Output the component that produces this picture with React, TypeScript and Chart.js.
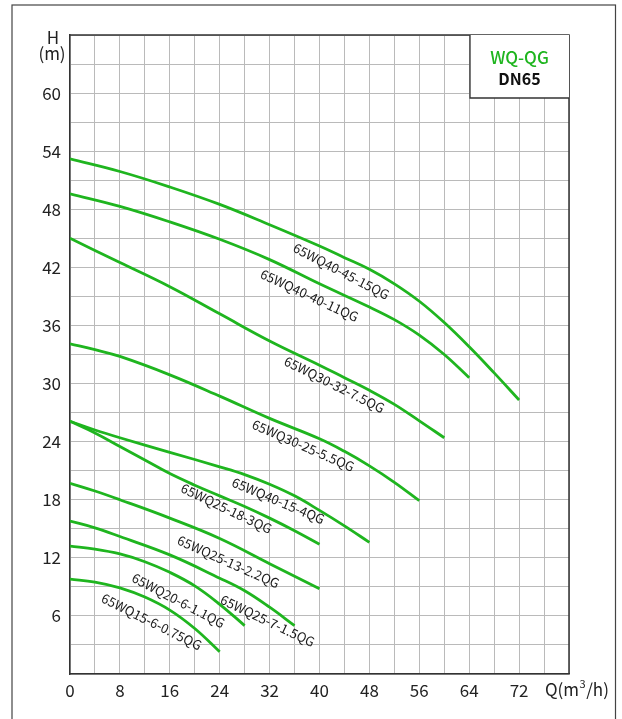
import { useEffect, useRef } from "react";
import { Chart, registerables } from "chart.js";

Chart.register(...registerables);

// ---- data (flow Q in m³/h, head H in m) ----
const q_40_45_15 = [0, 8, 16, 24, 32, 40, 44, 48, 52, 56, 60, 64, 68, 72];
const h_40_45_15 = [53.2, 51.9, 50.3, 48.5, 46.4, 44.2, 43.0, 41.8, 40.3, 38.5, 36.3, 33.8, 31.1, 28.3];

const q_40_40_11 = [0, 8, 16, 24, 32, 40, 48, 52, 56, 60, 64];
const h_40_40_11 = [49.6, 48.3, 46.7, 44.9, 42.8, 40.3, 37.9, 36.6, 35.0, 33.0, 30.6];

const q_30_32_75 = [0, 8, 16, 24, 32, 40, 44, 48, 52, 56, 60];
const h_30_32_75 = [45.0, 42.5, 40.0, 37.2, 34.4, 31.9, 30.6, 29.3, 27.85, 26.15, 24.4];

const q_30_25_55 = [0, 4, 8, 16, 24, 32, 40, 44, 48, 52, 56];
const h_30_25_55 = [34.1, 33.5, 32.8, 30.9, 28.7, 26.4, 24.3, 23.0, 21.5, 19.8, 17.9];

const q_40_15_4 = [0, 4, 8, 16, 24, 28, 32, 36, 40, 44, 48];
const h_40_15_4 = [26.1, 25.2, 24.4, 22.9, 21.4, 20.6, 19.6, 18.4, 16.9, 15.3, 13.6];

const q_25_18_3 = [0, 4, 8, 12, 16, 20, 24, 28, 32, 36, 40];
const h_25_18_3 = [26.1, 24.9, 23.5, 22.1, 20.7, 19.5, 18.4, 17.3, 16.1, 14.8, 13.4];

const q_25_13_22 = [0, 4, 8, 16, 24, 32, 36, 40];
const h_25_13_22 = [19.7, 18.9, 18.0, 16.1, 14.0, 11.4, 10.1, 8.8];

const q_25_7_15 = [0, 4, 8, 16, 24, 28, 32, 36];
const h_25_7_15 = [15.8, 15.1, 14.2, 12.3, 9.9, 8.6, 6.9, 5.0];

const q_20_6_11 = [0, 4, 8, 12, 16, 20, 24, 28];
const h_20_6_11 = [13.2, 12.9, 12.4, 11.6, 10.5, 9.1, 7.2, 5.0];

const q_15_6_075 = [0, 4, 8, 12, 16, 20, 24];
const h_15_6_075 = [9.8, 9.5, 8.9, 7.95, 6.6, 4.7, 2.3];

const curveFlows = [q_40_45_15, q_40_40_11, q_30_32_75, q_30_25_55, q_40_15_4, q_25_18_3, q_25_13_22, q_25_7_15, q_20_6_11, q_15_6_075];
const curveHeads = [h_40_45_15, h_40_40_11, h_30_32_75, h_30_25_55, h_40_15_4, h_25_18_3, h_25_13_22, h_25_7_15, h_20_6_11, h_15_6_075];

// curve labels: text, anchor (Q, H) in data units, rotation in degrees
const labelTexts = ["65WQ40-45-15QG", "65WQ40-40-11QG", "65WQ30-32-7.5QG", "65WQ30-25-5.5QG", "65WQ40-15-4QG", "65WQ25-18-3QG", "65WQ25-13-2.2QG", "65WQ20-6-1.1QG", "65WQ25-7-1.5QG", "65WQ15-6-0.75QG"];
const labelQ = [43.5, 38.4, 42.4, 37.4, 33.4, 25.1, 25.4, 17.4, 31.7, 13.1];
const labelH = [41.6, 39.1, 29.9, 23.6, 17.9, 17.1, 11.6, 7.6, 5.5, 5.4];
const labelAngle = [27.5, 25, 26.5, 23.5, 23, 25.5, 24, 27.5, 25.5, 26.5];

// axes
const qMin = 0;
const qMax = 80;
const qStep = 4;
const qLabelEvery = 8;
const hMin = 0;
const hMax = 66;
const hStep = 3;
const hLabelEvery = 6;

const seriesTitle = "WQ-QG";
const sizeTitle = "DN65";

const FONT = "'Noto Sans CJK SC', 'Noto Sans', sans-serif";
const GREEN = "#1fb51f";

const decorPlugin = {
  id: "decor",
  afterDatasetsDraw(chart: any) {
    const { ctx, chartArea, scales } = chart;
    const xs = scales.x;
    const ys = scales.y;
    ctx.save();
    // curve labels
    ctx.fillStyle = "#1a1a1a";
    ctx.font = `13px ${FONT}`;
    ctx.textAlign = "center";
    ctx.textBaseline = "middle";
    labelTexts.forEach((t, i) => {
      const px = xs.getPixelForValue(labelQ[i]);
      const py = ys.getPixelForValue(labelH[i]);
      ctx.save();
      ctx.translate(px, py);
      ctx.rotate((labelAngle[i] * Math.PI) / 180);
      ctx.fillText(t, 0, 0);
      ctx.restore();
    });

    // plot frame top/right
    ctx.strokeStyle = "#333";
    ctx.lineWidth = 1.5;
    ctx.beginPath();
    ctx.moveTo(chartArea.left, chartArea.top);
    ctx.lineTo(chartArea.right, chartArea.top);
    ctx.lineTo(chartArea.right, chartArea.bottom);
    ctx.stroke();

    // title box
    const bw = 99;
    const bh = 63;
    const bx = chartArea.right - bw;
    const by = chartArea.top;
    ctx.fillStyle = "#fff";
    ctx.fillRect(bx, by, bw, bh);
    ctx.strokeStyle = "#333";
    ctx.lineWidth = 1.3;
    ctx.beginPath();
    ctx.moveTo(bx, by);
    ctx.lineTo(bx, by + bh);
    ctx.lineTo(bx + bw, by + bh);
    ctx.stroke();
    ctx.textAlign = "center";
    ctx.textBaseline = "middle";
    ctx.fillStyle = GREEN;
    ctx.font = `500 17px ${FONT}`;
    ctx.fillText(seriesTitle, bx + bw / 2, by + 23);
    ctx.fillStyle = "#111";
    ctx.font = `bold 16px ${FONT}`;
    ctx.fillText(sizeTitle, bx + bw / 2, by + 44);

    // axis titles
    ctx.fillStyle = "#222";
    ctx.font = `17px ${FONT}`;
    ctx.textAlign = "center";
    ctx.fillText("H", chartArea.left - 17, chartArea.top + 3);
    ctx.fillText("(m)", chartArea.left - 18, chartArea.top + 19);

    ctx.textAlign = "left";
    const qy = chartArea.bottom + 16;
    let qx = chartArea.right - 24;
    ctx.fillText("Q(m", qx, qy);
    qx += ctx.measureText("Q(m").width;
    ctx.font = `11px ${FONT}`;
    ctx.fillText("3", qx + 0.5, qy - 6);
    qx += ctx.measureText("3").width + 1;
    ctx.font = `17px ${FONT}`;
    ctx.fillText("/h)", qx, qy);

    // outer frame
    ctx.strokeStyle = "#444";
    ctx.lineWidth = 1.2;
    ctx.strokeRect(12, 5, 603.5, 760);
    ctx.restore();
  },
};

export default function App() {
  const ref = useRef<HTMLCanvasElement>(null);

  useEffect(() => {
    if (!ref.current) return;
    const datasets = curveFlows.map((qs, i) => ({
      label: labelTexts[i],
      data: qs.map((q, j) => ({ x: q, y: curveHeads[i][j] })),
      showLine: true,
      borderColor: GREEN,
      backgroundColor: GREEN,
      borderWidth: 2.8,
      pointRadius: 0,
      tension: 0.4,
      fill: false,
    }));

    const chart = new Chart(ref.current, {
      type: "scatter",
      data: { datasets },
      options: {
        animation: false,
        responsive: false,
        events: [],
        layout: { padding: { left: 0, top: 35, right: 53, bottom: 0 } },
        plugins: {
          legend: { display: false },
          tooltip: { enabled: false },
        },
        scales: {
          x: {
            type: "linear",
            min: qMin,
            max: qMax,
            afterFit: (s: any) => {
              s.height = 45;
            },
            ticks: {
              stepSize: qStep,
              autoSkip: false,
              maxRotation: 0,
              padding: 6,
              color: "#222",
              font: { family: FONT, size: 17 },
              callback: (v: any) => (Number(v) % qLabelEvery === 0 && Number(v) < qMax ? String(v) : ""),
            },
            grid: { color: "#bababa", lineWidth: 1, drawTicks: false },
            border: { color: "#333", width: 1.5 },
          },
          y: {
            type: "linear",
            min: hMin,
            max: hMax,
            afterFit: (s: any) => {
              s.width = 70;
            },
            ticks: {
              stepSize: hStep,
              autoSkip: false,
              padding: 9,
              color: "#222",
              font: { family: FONT, size: 17 },
              callback: (v: any) =>
                Number(v) % hLabelEvery === 0 && Number(v) > hMin && Number(v) < hMax ? String(v) : "",
            },
            grid: { color: "#bababa", lineWidth: 1, drawTicks: false },
            border: { color: "#333", width: 1.5 },
          },
        },
      },
      plugins: [decorPlugin],
    });
    return () => chart.destroy();
  }, []);

  return (
    <div style={{ position: "fixed", left: 0, top: 0, width: 622, height: 719, background: "#fff" }}>
      <canvas ref={ref} width={622} height={719} style={{ display: "block", width: 622, height: 719 }} />
    </div>
  );
}
